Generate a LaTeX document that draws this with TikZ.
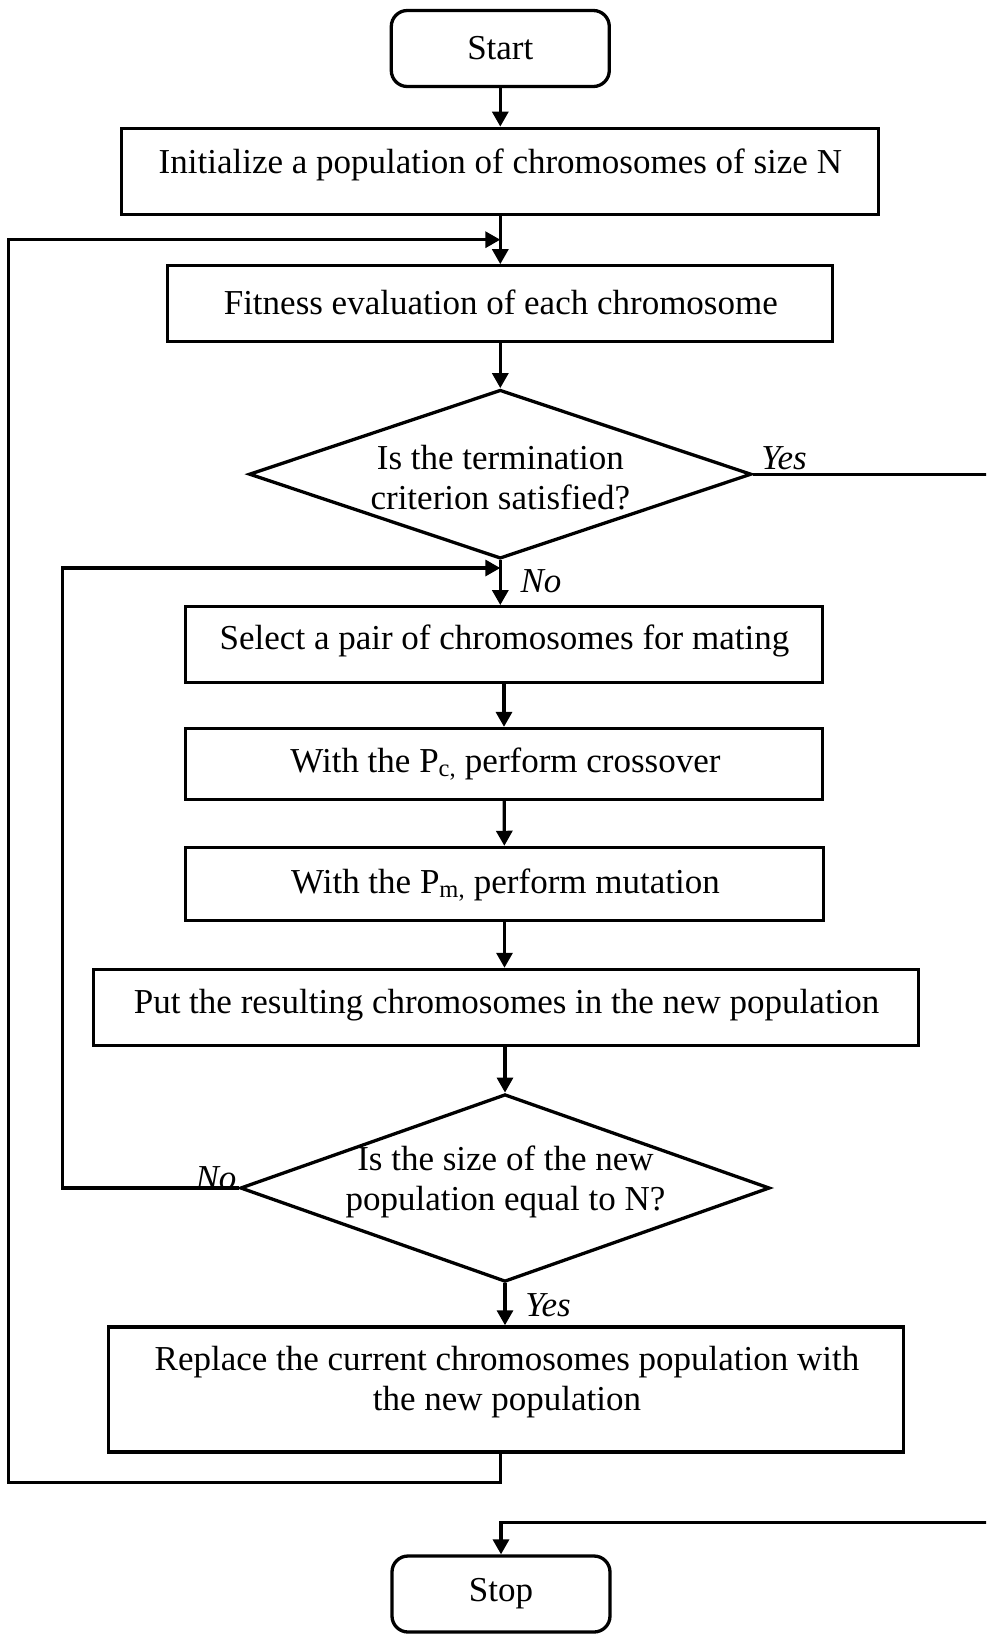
\documentclass[tikz,border=0pt]{standalone}
\usepackage{fontspec}
\setmainfont{Liberation Serif}
\usetikzlibrary{arrows.meta,shapes.geometric}
\begin{document}
\begin{tikzpicture}[x=1pt,y=-1pt,
  every node/.style={font=\fontsize{35}{40}\selectfont},
  lw/.style={line width=3.3pt},
  box/.style={draw,lw,rectangle,inner sep=0pt},
  term/.style={draw,lw,rectangle,rounded corners=16pt,inner sep=0pt,minimum width=218pt,minimum height=76pt},
  dec/.style={draw,lw,diamond,inner sep=0pt},
  txt/.style={inner sep=0pt,align=center},
  lab/.style={inner sep=0pt,font=\fontsize{35}{40}\selectfont\itshape},
  arr/.style={lw,-{Triangle[length=15pt,width=16pt]}},
  con/.style={lw}
]
\useasboundingbox (0,0) rectangle (986,1634);
\clip (0,0) rectangle (986,1634);

% nodes
\node[term] (start) at (500.3,48.5) {Start};
\node[box,minimum width=757pt,minimum height=86.5pt] (init) at (500.3,171.5) {};
\node[txt] (initT) at (500.3,164.5) {Initialize a population of chromosomes of size N};
\node[box,minimum width=665pt,minimum height=76pt] (fit) at (500.3,303.8) {};
\node[txt] (fitT) at (500.8,302) {Fitness evaluation of each chromosome};
\node[dec,minimum width=502.4pt,minimum height=168.9pt] (d1) at (500.3,474.2) {};
\node[txt] (d1T) at (500.3,478) {Is the termination\\criterion satisfied?};
\node[box,minimum width=637pt,minimum height=76pt] (sel) at (504,644.7) {};
\node[txt] (selT) at (504.5,641) {Select a pair of chromosomes for mating};
\node[box,minimum width=637pt,minimum height=71pt] (cro) at (504,764) {};
\node[txt] (croT) at (505.5,764) {With the P\textsubscript{c,} perform crossover};
\node[box,minimum width=638pt,minimum height=73pt] (mut) at (504.5,883.9) {};
\node[txt] (mutT) at (505.5,885) {With the P\textsubscript{m,} perform mutation};
\node[box,minimum width=824.5pt,minimum height=76pt] (put) at (506,1007.4) {};
\node[txt] (putT) at (506.6,1004.7) {Put the resulting chromosomes in the new population};
\node[dec,minimum width=529.5pt,minimum height=187.6pt] (d2) at (505,1188) {};
\node[txt] (d2T) at (505.5,1182) {Is the size of the new\\population equal to N?};
\node[box,minimum width=795pt,minimum height=125pt] (rep) at (506,1389.4) {};
\node[txt] (repT) at (507,1382) {Replace the current chromosomes population with\\the new population};
\node[term] (stop) at (501,1594) {Stop};

% labels
\node[lab] (yes1) at (784,458.5) {Yes};
\node[lab] (no1) at (541,581.5) {No};
\node[lab] (no2) at (216,1177.7) {No};
\node[lab] (yes2) at (548,1305) {Yes};

% connector coordinates
\coordinate (m1) at (500.3,239.7);
\coordinate (lb1) at (8.3,1482.2);
\coordinate (m2) at (500.3,568);
\coordinate (l2) at (62.5,568);
\coordinate (sr) at (1000,1522.8);

% connectors
\draw[arr] (start) -- (init);
\draw[arr] (init) -- (fit);
\draw[arr] (rep.south -| m1) |- (lb1) |- (m1);
\draw[arr] (fit) -- (d1);
\draw[arr] (d1.east) -| (sr) -| (stop.north);
\draw[arr] (d1.south) -- (d1.south |- sel.north);
\draw[arr] (d2.west) -| (l2) -- (m2);
\draw[arr] (sel) -- (cro);
\draw[arr] (cro) -- (mut);
\draw[arr] (mut.south) -- (mut.south |- put.north);
\draw[arr] (d2.north |- put.south) -- (d2.north);
\draw[arr] (d2.south) -- (d2.south |- rep.north);
\end{tikzpicture}
\end{document}
